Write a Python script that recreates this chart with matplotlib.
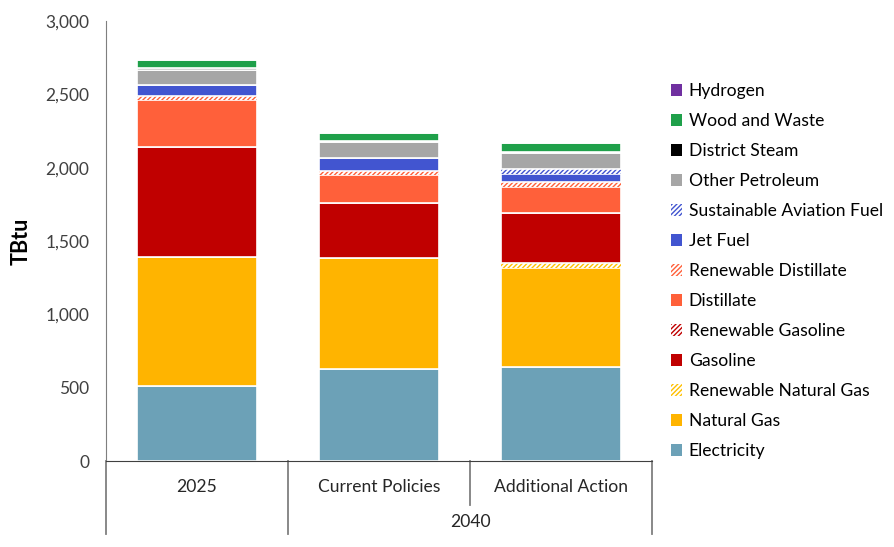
import matplotlib
matplotlib.use("Agg")
import matplotlib.pyplot as plt
from matplotlib.patches import Patch

plt.rcParams["font.family"] = ["Lato", "DejaVu Sans"]
plt.rcParams["hatch.linewidth"] = 1.0

categories = ["2025", "Current Policies", "Additional Action"]
group_label = "2040"

# TBtu (bottom of stack first)
electricity = [510, 629, 642]
natural_gas = [882, 758, 675]
renewable_natural_gas = [0, 0, 33]
gasoline = [750, 373, 340]
renewable_gasoline = [0, 0, 5]
distillate = [319, 193, 171]
renewable_distillate = [27, 28, 40]
jet_fuel = [77, 83, 54]
sustainable_aviation_fuel = [0, 5, 31]
other_petroleum = [102, 104, 110]
district_steam = [12, 6, 6]
wood_and_waste = [55, 58, 60]
hydrogen = [0, 0, 0]

series = [
    ("Electricity", electricity, "#6CA1B7", False),
    ("Natural Gas", natural_gas, "#FFB400", False),
    ("Renewable Natural Gas", renewable_natural_gas, "#FFC000", True),
    ("Gasoline", gasoline, "#C00000", False),
    ("Renewable Gasoline", renewable_gasoline, "#C00000", True),
    ("Distillate", distillate, "#FF603A", False),
    ("Renewable Distillate", renewable_distillate, "#FF603A", True),
    ("Jet Fuel", jet_fuel, "#4255D0", False),
    ("Sustainable Aviation Fuel", sustainable_aviation_fuel, "#4255D0", True),
    ("Other Petroleum", other_petroleum, "#A6A6A6", False),
    ("District Steam", district_steam, "#000000", False),
    ("Wood and Waste", wood_and_waste, "#1FA04A", False),
    ("Hydrogen", hydrogen, "#7030A0", False),
]

fig = plt.figure(figsize=(8.95, 5.47), dpi=100)
ax = fig.add_axes([106 / 895, 1 - 461.3 / 547, (652 - 106) / 895, (461.3 - 21) / 547])

x = list(range(len(categories)))
width = 0.655
bottom = [0.0] * len(categories)
handles = []
for name, vals, color, hatched in series:
    if hatched:
        ax.bar(x, vals, width, bottom=bottom, facecolor="white", edgecolor=color,
               hatch="///////", linewidth=0)
        handles.append(Patch(facecolor="white", edgecolor=color, hatch="///////",
                             linewidth=0, label=name))
    else:
        ax.bar(x, vals, width, bottom=bottom, color=color, edgecolor="white",
               linewidth=1.2)
        handles.append(Patch(facecolor=color, edgecolor="none", label=name))
    bottom = [b + v for b, v in zip(bottom, vals)]

ax.set_xlim(-0.5, len(categories) - 0.5)
ax.set_ylim(0, 3000)
ax.set_yticks(range(0, 3001, 500))
ax.set_yticklabels([f"{v:,}" for v in range(0, 3001, 500)])
ax.tick_params(axis="y", length=0, pad=12, labelsize=12.5, colors="#404040")
ax.set_xticks([])
for s in ["top", "right"]:
    ax.spines[s].set_visible(False)
ax.spines["left"].set_color("#7F7F7F")
ax.spines["bottom"].set_color("#404040")
ax.set_ylabel("TBtu", fontsize=15.5, fontweight="bold", labelpad=10)

# two-level category axis
trans = ax.get_xaxis_transform()
for xv, ybot in [(-0.5, -0.165), (0.5, -0.165), (1.5, -0.099), (2.5, -0.165)]:
    ax.plot([xv, xv], [0, ybot], transform=trans, color="#7F7F7F", lw=1.3, clip_on=False)
for xi, lab in zip(x, categories):
    ax.text(xi, -0.058, lab, transform=trans, ha="center", va="center", fontsize=12.6,
            color="#262626")
ax.text(1.5, -0.138, group_label, transform=trans, ha="center", va="center", fontsize=12.6,
        color="#262626")

fig.legend(handles[::-1], [h.get_label() for h in handles[::-1]],
           loc="upper left", bbox_to_anchor=(671 / 895, 1 - 83 / 547), frameon=False,
           fontsize=12.6, handlelength=0.62, handleheight=0.62, handletextpad=0.4,
           labelspacing=0.80, borderaxespad=0, borderpad=0)

fig.savefig("out.png", dpi=100)
